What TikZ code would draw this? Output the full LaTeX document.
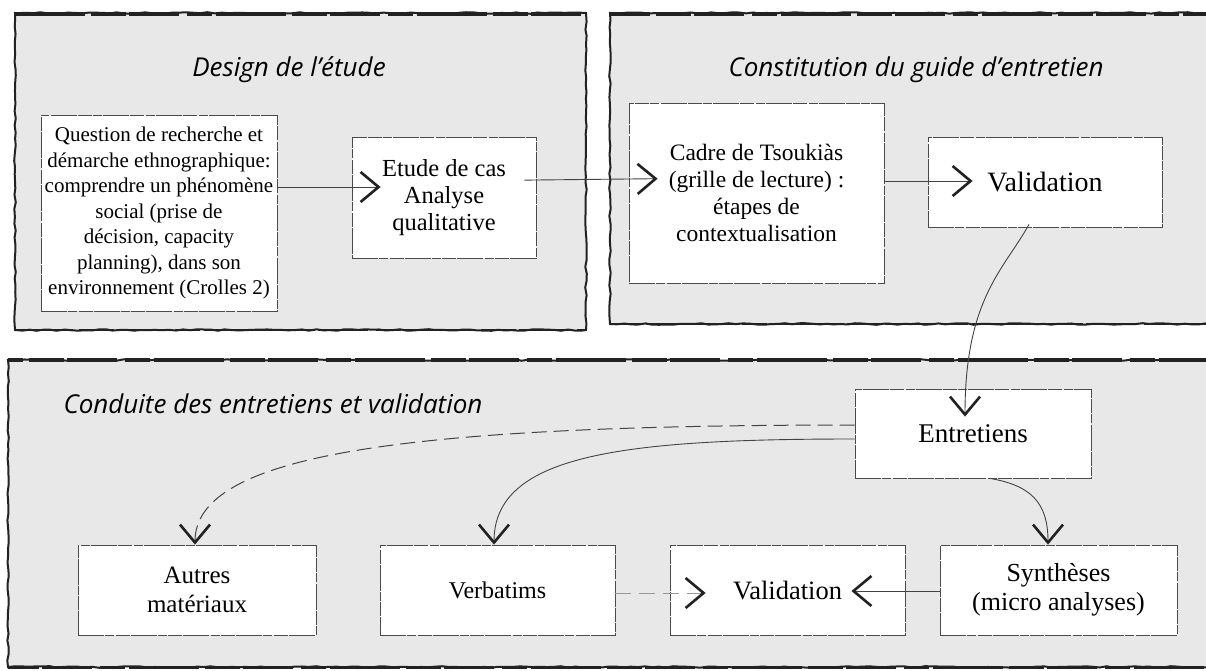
\documentclass[tikz,border=0pt]{standalone}
\usepackage{fontspec}
\setmainfont{Liberation Serif}
\newfontfamily\titlefont{Open Sans}
\usetikzlibrary{arrows.meta,decorations.pathmorphing,calc}
\definecolor{panelfill}{HTML}{E8E8E8}
\definecolor{ink}{HTML}{222222}
\definecolor{boxline}{HTML}{4A4A4A}
\tikzset{
  panel/.style={fill=panelfill, draw=ink, line width=2pt,
    decorate, decoration={random steps, segment length=7pt, amplitude=0.8pt}},
  brush/.style={draw=ink, line width=3.8pt,
    dash pattern=on 70pt off 6pt on 35pt off 3pt on 50pt off 8pt on 25pt off 4pt},
  box/.style={draw=boxline, fill=white, line width=0.8pt,
    dash pattern=on 26pt off 1.2pt on 9pt off 1.5pt on 14pt off 1pt,
    inner sep=0pt, align=center},
  titletext/.style={font=\titlefont\itshape\fontsize{26}{30}\selectfont, text=black},
  conn/.style={draw=ink!85, line width=0.9pt,
    -{Straight Barb[length=18pt,width=30pt,line width=2.6pt,color=ink]}},
  dconn/.style={conn, line width=1pt, dash pattern=on 15pt off 7pt},
  lconn/.style={draw=gray!80, line width=0.8pt, dash pattern=on 16pt off 8pt,
    -{Straight Barb[length=18pt,width=30pt,line width=2.6pt,color=ink]}},
}
\begin{document}
\begin{tikzpicture}[x=1pt,y=1pt]
\useasboundingbox (0,0) rectangle (1206,-671);
\fill[white] (0,0) rectangle (1206,-671);

% panels
\draw[panel] (15,-13) rectangle (586,-330);
\draw[panel] (610,-13) rectangle (1222,-324);
\draw[panel] (8,-360) rectangle (1222,-667);
\draw[brush] (15,-14) -- (586,-14);
\draw[brush, dash phase=30pt] (610,-14) -- (1222,-14);
\draw[brush, line width=4.4pt, dash phase=55pt] (8,-360) -- (1222,-360);
\draw[brush, line width=2.8pt, dash phase=12pt] (15,-330) -- (586,-330);
\draw[brush, line width=2.4pt, dash phase=40pt] (610,-324) -- (1222,-324);
\draw[brush, line width=3pt, dash phase=80pt] (8,-667) -- (1222,-667);

% titles
\node[titletext] (t1) at (289,-70) {Design de l’étude};
\node[titletext] (t2) at (916,-70) {Constitution du guide d’entretien};
\node[titletext, anchor=west] (t3) at (60,-404) {Conduite des entretiens et validation};

% boxes
\node[box, minimum width=236pt, minimum height=196pt,
      font=\fontsize{21}{25.5}\selectfont] (q) at (159,-213)
  {Question de recherche et\\démarche ethnographique:\\comprendre un phénomène\\social (prise de\\décision, capacity\\planning), dans son\\environnement (Crolles 2)};
\node[box, minimum width=184pt, minimum height=121pt,
      font=\fontsize{24.5}{26.7}\selectfont] (etude) at (444,-197.5)
  {Etude de cas\\Analyse\\qualitative};
\node[box, minimum width=255pt, minimum height=180pt,
      font=\fontsize{23.5}{27}\selectfont] (cadre) at (756.5,-193)
  {Cadre de Tsoukiàs\\(grille de lecture) :\\étapes de\\contextualisation};
\node[box, minimum width=234pt, minimum height=90pt,
      font=\fontsize{28}{30}\selectfont] (valA) at (1045,-182) {Validation};
\node[box, minimum width=236pt, minimum height=89pt,
      font=\fontsize{27}{30}\selectfont] (entre) at (973,-433.5) {Entretiens};
\node[box, minimum width=238pt, minimum height=90pt,
      font=\fontsize{25}{29}\selectfont] (autres) at (197,-590) {Autres\\matériaux};
\node[box, minimum width=235pt, minimum height=90pt,
      font=\fontsize{24}{29}\selectfont] (verb) at (497.5,-590) {Verbatims};
\node[box, minimum width=235pt, minimum height=90pt,
      font=\fontsize{26.5}{29}\selectfont] (valB) at (787.5,-590) {Validation};
\node[box, minimum width=237pt, minimum height=90pt,
      font=\fontsize{26}{29}\selectfont] (synth) at (1058.5,-590) {Synthèses\\(micro analyses)};

% connectors
\draw[conn, shorten >=-29pt] ([yshift=26pt]q.east) -- ([yshift=10.5pt]etude.west);
\draw[conn, shorten >=-29pt, shorten <=-12pt] ([yshift=17.5pt]etude.east) -- ([yshift=14pt]cadre.west);
\draw[conn, shorten >=-45pt] ([yshift=12pt]cadre.east) -- ([yshift=1pt]valA.west);
\draw[conn, shorten >=-28pt] ([xshift=-16pt,yshift=3pt]valA.south)
  .. controls +(-25,-45) and +(0,90) .. ([xshift=-8pt]entre.north);
\draw[dconn] ([yshift=8.5pt]entre.west)
  .. controls (400,-425) and (195,-455) .. ([xshift=-2pt]autres.north);
\draw[conn] ([yshift=-5.5pt]entre.west)
  .. controls (620,-439) and (494,-455) .. ([xshift=-3.5pt]verb.north);
\draw[conn] ([xshift=17pt]entre.south)
  .. controls +(40,-7) and +(0,43) .. ([xshift=-10.5pt]synth.north);
\draw[lconn, shorten >=-36pt] ([yshift=-3pt]verb.east) -- ([yshift=-3pt]valB.west);
\draw[conn, shorten >=-54pt] ([yshift=-1pt]synth.west) -- ([yshift=-1pt]valB.east);
\end{tikzpicture}
\end{document}
